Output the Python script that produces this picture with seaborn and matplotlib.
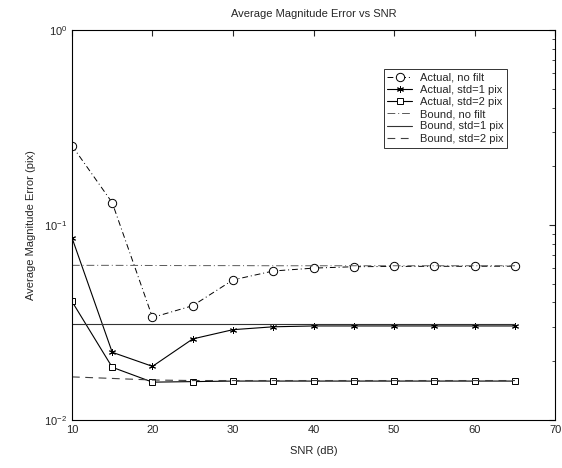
import numpy as np
import pandas as pd
import matplotlib
matplotlib.use("Agg")
import matplotlib.pyplot as plt
import seaborn as sns

# SNR values (dB)
snr = [10, 15, 20, 25, 30, 35, 40, 45, 50, 55, 60, 65]

# Measured errors
actual_nofilt = [0.255, 0.130, 0.0335, 0.0385, 0.0522, 0.0580, 0.0600, 0.0610, 0.0612, 0.0613, 0.0613, 0.0614]
actual_std1 = [0.0860, 0.0222, 0.0188, 0.0260, 0.0290, 0.0300, 0.0303, 0.0303, 0.0303, 0.0303, 0.0303, 0.0303]
actual_std2 = [0.0405, 0.0186, 0.0156, 0.0157, 0.0158, 0.0158, 0.0158, 0.0158, 0.0158, 0.0158, 0.0158, 0.0158]

# Theoretical bounds
bound_nofilt = [0.0620, 0.0620, 0.0619, 0.0618, 0.0618, 0.0617, 0.0617, 0.0617, 0.0617, 0.0617, 0.0617, 0.0617]
bound_std1 = [0.0310, 0.0310, 0.0310, 0.0310, 0.0310, 0.0310, 0.0310, 0.0310, 0.0310, 0.0310, 0.0310, 0.0310]
bound_std2 = [0.0166, 0.0163, 0.0160, 0.0159, 0.0159, 0.0159, 0.0159, 0.0159, 0.0159, 0.0159, 0.0159, 0.0159]

sns.set_style("white")
plt.rcParams["font.family"] = ["Liberation Sans", "DejaVu Sans"]
plt.rcParams["font.size"] = 8
plt.rcParams["mathtext.fontset"] = "custom"
plt.rcParams["mathtext.rm"] = "Liberation Sans"

fig = plt.figure(figsize=(5.62, 4.68), dpi=100)
ax = fig.add_axes([0.128, 0.103, 0.860, 0.833])

asterisk = (6, 2, 0)
series = [
    ("Actual, no filt", actual_nofilt, dict(marker="o", linestyle=(0, (6, 3, 1, 3)), lw=0.7, ms=6)),
    ("Actual, std=1 pix", actual_std1, dict(marker=asterisk, linestyle="-", lw=0.8, ms=5)),
    ("Actual, std=2 pix", actual_std2, dict(marker="s", linestyle="-", lw=0.8, ms=5)),
    ("Bound, no filt", bound_nofilt, dict(linestyle=(0, (8, 3, 1, 3)), lw=0.7, color="0.35")),
    ("Bound, std=1 pix", bound_std1, dict(linestyle="-", lw=0.8, color="0.2")),
    ("Bound, std=2 pix", bound_std2, dict(linestyle=(0, (7, 5)), lw=0.8, color="0.25")),
]

for name, vals, style in series:
    kw = dict(color="black")
    kw.update(style)
    if "marker" in kw:
        kw["mfc"] = "white"
        kw["mec"] = "black"
        kw["mew"] = 0.7
    sns.lineplot(x=snr, y=vals, ax=ax, label=name, **kw)

ax.set_yscale("log")
ax.set_xlim(10, 70)
ax.set_ylim(1e-2, 1e0)
ax.set_xticks([10, 20, 30, 40, 50, 60, 70])
ax.tick_params(which="both", direction="in", top=True, right=True, labelsize=8)
ax.tick_params(which="major", length=4)
ax.tick_params(which="minor", length=2.5)
for s in ax.spines.values():
    s.set_linewidth(0.8)
    s.set_color("black")

ax.set_title("Average Magnitude Error vs SNR", fontsize=8, pad=9)
ax.set_xlabel("SNR (dB)", fontsize=8, labelpad=8)
ax.set_ylabel("Average Magnitude Error (pix)", fontsize=8, labelpad=6)

leg = ax.legend(loc="upper right", bbox_to_anchor=(0.912, 0.915), frameon=True,
                fancybox=False, edgecolor="black", fontsize=8, handlelength=2.2,
                borderpad=0.35, labelspacing=0.2, handletextpad=0.7)
leg.get_frame().set_linewidth(0.7)

fig.savefig("out.png", dpi=100)
